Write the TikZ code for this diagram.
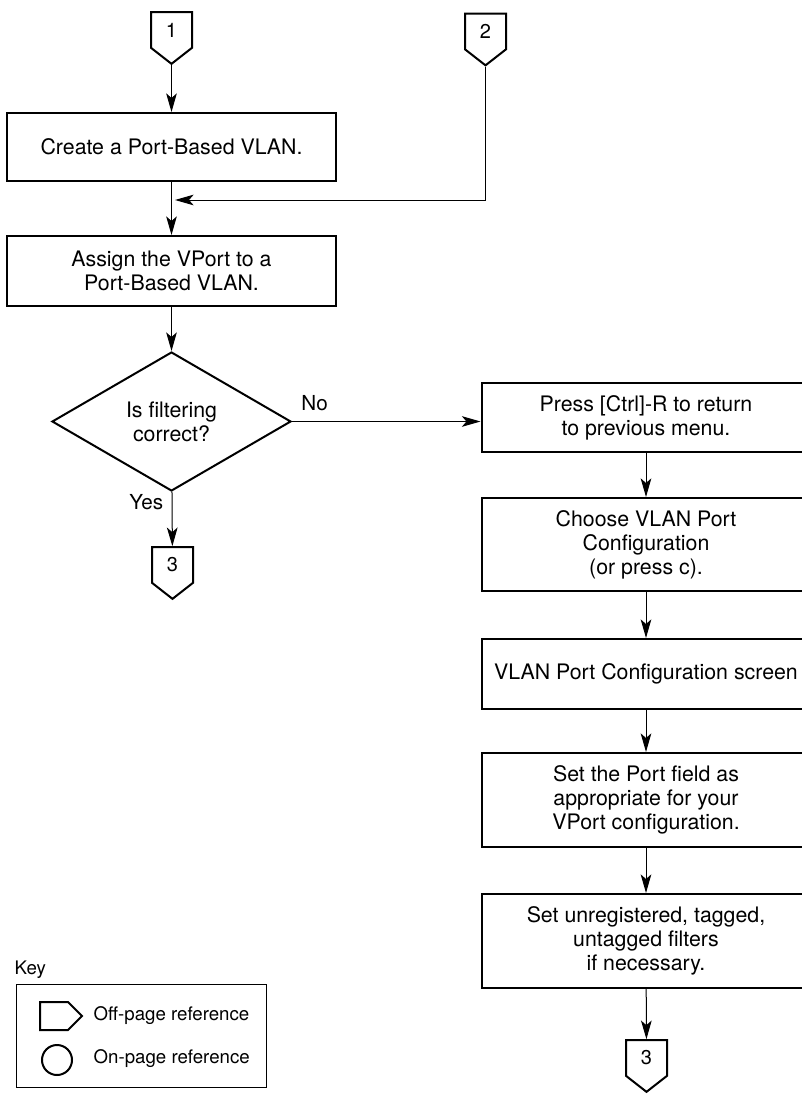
\documentclass[tikz,border=0pt]{standalone}
\usepackage{fontspec}
\setmainfont{TeX Gyre Heros}
\usetikzlibrary{shapes.geometric,shapes.symbols,arrows.meta}

\tikzset{
  stepbox/.style={draw, line width=1.5pt, minimum width=246.75pt, inner sep=2pt,
    align=center, font=\fontsize{16}{18}\selectfont},
  decision/.style={diamond, draw, line width=1.5pt, minimum width=179.25pt,
    minimum height=104.25pt, inner sep=0pt, align=center, font=\fontsize{16}{18}\selectfont},
  offpage/.style={signal, signal to=south, signal from=nowhere, signal pointer angle=104,
    draw, line width=1.5pt, minimum width=30.75pt, minimum height=30pt, inner sep=0pt,
    font=\fontsize{15}{18}\selectfont},
  flow/.style={line width=0.75pt, -{Stealth[length=14pt,width=8pt,inset=3.5pt]}},
  lbl/.style={font=\fontsize{15.5}{18}\selectfont},
  keytext/.style={font=\fontsize{14}{16}\selectfont}
}

\begin{document}
\begin{tikzpicture}[x=0.75pt,y=-0.75pt]
  \useasboundingbox (0,0) rectangle (802,1095);
  \clip (0,0) rectangle (802,1095);

  % left column
  \node[offpage] (one) at (171.5,30) {1};
  \node[offpage] (two) at (485.5,31.5) {2};
  \node[stepbox, minimum height=51pt] (create) at (171.5,147) {Create a Port-Based VLAN.};
  \node[stepbox, minimum height=52.5pt] (assign) at (171.5,271) {Assign the VPort to a\\Port-Based VLAN.};
  \node[decision] (check) at (171.5,421.5) {Is filtering\\correct?};
  \node[offpage] (threeL) at (172.5,565) {3};

  % right column
  \node[stepbox, minimum height=51.75pt] (press) at (646,417.5) {Press [Ctrl]-R to return\\to previous menu.};
  \node[stepbox, minimum height=69.75pt] (choose) at (646,544.5) {Choose VLAN Port\\Configuration\\(or press c).};
  \node[stepbox, minimum height=52.5pt] (screen) at (646,674) {VLAN Port Configuration screen};
  \node[stepbox, minimum height=70.5pt] (portfield) at (646,800) {Set the Port field as\\appropriate for your\\VPort configuration.};
  \node[stepbox, minimum height=70.5pt] (filters) at (646,941) {Set unregistered, tagged,\\untagged filters\\if necessary.};
  \node[offpage] (threeR) at (646.5,1058) {3};

  \coordinate (join) at (175,200);

  \draw[flow] (one.south) -- (create);
  \draw[flow] (create) -- (assign);
  \draw[flow] (two.south) |- (join);
  \draw[flow] (assign) -- (check);
  \draw[flow] (check.east) -- node[lbl, pos=0.12, above=4pt] {No} (check.east -| press.west);
  \draw[flow] (check) -- node[lbl, pos=0.2, left=3pt] {Yes} (threeL);
  \draw[flow] (press) -- (choose);
  \draw[flow] (choose) -- (screen);
  \draw[flow] (screen) -- (portfield);
  \draw[flow] (portfield) -- (filters);
  \draw[flow] (filters) -- (threeR);

  % key
  \node[keytext, anchor=west] (keytitle) at (10,970) {Key};
  \node[draw, line width=0.75pt, minimum width=187.5pt, minimum height=77.25pt] (keybox) at (141,1035.5) {};
  \draw[line width=1.5pt] (40,1002) -- (68,1002) -- (82,1016) -- (68,1030) -- (40,1030) -- cycle;
  \node[circle, draw, line width=1.5pt, minimum size=22.5pt, inner sep=0pt] (onkey) at (57,1060) {};
  \node[keytext, anchor=west] (offtext) at (89,1016) {Off-page reference};
  \node[keytext, anchor=west] (ontext) at (89,1059) {On-page reference};
\end{tikzpicture}
\end{document}
